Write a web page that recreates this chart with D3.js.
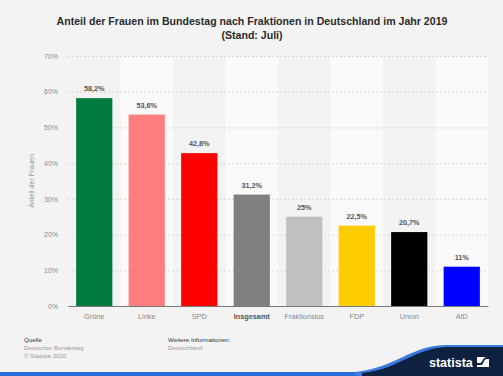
<!DOCTYPE html>
<html>
<head>
<meta charset="utf-8">
<script src="https://cdn.jsdelivr.net/npm/d3@7"></script>
<style>
  html, body { margin: 0; padding: 0; background: #f3f3f3; }
  svg { display: block; font-family: "Liberation Sans", Arial, sans-serif; }
</style>
</head>
<body>
<svg id="chart" width="503" height="376"></svg>
<script>
// Frauenanteil je Fraktion, Bundestag 2019
const categories = ["Grüne", "Linke", "SPD", "Insgesamt", "Fraktionslos", "FDP", "Union", "AfD"];
const values = [58.2, 53.6, 42.8, 31.2, 25, 22.5, 20.7, 11];
const barColors = ["#007a3d", "#ff7f7f", "#ff0000", "#808080", "#c0c0c0", "#ffcc00", "#000000", "#0000ff"];
const yTicks = [0, 10, 20, 30, 40, 50, 60, 70];
const valueLabels = ["58,2%", "53,6%", "42,8%", "31,2%", "25%", "22,5%", "20,7%", "11%"];

const svg = d3.select("#chart");
const W = 503, H = 376;
const m = { left: 68, right: 15, top: 56, bottom: 70 };
const x = d3.scaleBand().domain(categories).range([m.left, W - m.right]).paddingInner(0.31).paddingOuter(0.155);
const y = d3.scaleLinear().domain([0, 70]).range([H - m.bottom, m.top]);

svg.append("rect").attr("width", W).attr("height", H).attr("fill", "#f3f3f3");

// Title
svg.append("text").attr("x", 252).attr("y", 25).attr("text-anchor", "middle")
  .attr("font-size", 10.6).attr("font-weight", "bold").attr("fill", "#2b2b2b")
  .text("Anteil der Frauen im Bundestag nach Fraktionen in Deutschland im Jahr 2019");
svg.append("text").attr("x", 252).attr("y", 39).attr("text-anchor", "middle")
  .attr("font-size", 10.6).attr("font-weight", "bold").attr("fill", "#2b2b2b")
  .text("(Stand: Juli)");

// Alternating column bands
const step = x.step();
svg.append("g").selectAll("rect").data(categories).join("rect")
  .attr("x", d => x(d) - step * x.paddingInner() / 2)
  .attr("y", y(70))
  .attr("width", step)
  .attr("height", y(0) - y(70))
  .attr("fill", (d, i) => i % 2 ? "#fafafa" : "#f3f3f3");

// Gridlines + tick labels
const yAxis = d3.axisLeft(y).tickValues(yTicks).tickSize(-(W - m.right - m.left))
  .tickPadding(10).tickFormat(d => d + "%");
const gy = svg.append("g").attr("transform", `translate(${m.left},0)`).call(yAxis);
gy.select(".domain").remove();
gy.selectAll(".tick line").attr("stroke", "#cfcfcf").attr("stroke-dasharray", "2,2")
  .attr("stroke-width", 0.8)
  .filter(d => d === 0).remove();
gy.selectAll(".tick text").attr("font-size", 7).attr("fill", "#8a8a8a")
  .attr("font-family", "Liberation Sans, Arial, sans-serif");

// Y-axis title
svg.append("text").attr("transform", `translate(34,${(y(0) + y(70)) / 2}) rotate(-90)`)
  .attr("text-anchor", "middle").attr("font-size", 7).attr("fill", "#999")
  .text("Anteil der Frauen");

// Bars
svg.append("g").selectAll("rect").data(values).join("rect")
  .attr("x", (d, i) => x(categories[i]))
  .attr("y", d => y(d))
  .attr("width", x.bandwidth())
  .attr("height", d => y(0) - y(d))
  .attr("fill", (d, i) => barColors[i]);

// Value labels
svg.append("g").selectAll("text").data(values).join("text")
  .attr("x", (d, i) => x(categories[i]) + x.bandwidth() / 2)
  .attr("y", d => y(d) - 7)
  .attr("text-anchor", "middle").attr("font-size", 7.3).attr("font-weight", "bold")
  .attr("fill", "#555")
  .text((d, i) => valueLabels[i]);

// Baseline + category labels
const xAxis = d3.axisBottom(x).tickSize(0).tickPadding(8);
const gx = svg.append("g").attr("transform", `translate(0,${y(0)})`).call(xAxis);
gx.select(".domain").attr("stroke", "#777").attr("stroke-width", 1.2);
gx.selectAll(".tick text").attr("font-size", 7.3)
  .attr("font-family", "Liberation Sans, Arial, sans-serif")
  .attr("font-weight", d => d === "Insgesamt" ? "bold" : "normal")
  .attr("fill", d => d === "Insgesamt" ? "#555" : "#888");

// Footer
const foot = svg.append("g").attr("font-size", 6.2);
foot.append("text").attr("x", 24).attr("y", 342).attr("fill", "#333").text("Quelle");
foot.append("text").attr("x", 24).attr("y", 350).attr("fill", "#999").text("Deutscher Bundestag");
foot.append("text").attr("x", 24).attr("y", 358).attr("fill", "#999").text("© Statista 2020");
foot.append("text").attr("x", 168).attr("y", 342).attr("fill", "#333").text("Weitere Informationen:");
foot.append("text").attr("x", 168).attr("y", 350).attr("fill", "#999").text("Deutschland");

// Brand swoosh
svg.append("rect").attr("x", 0).attr("y", 372).attr("width", W).attr("height", 4).attr("fill", "#2a6fd6");
svg.append("path")
  .attr("d", "M355,372 C395,368 410,346 445,345 L503,345 L503,376 L355,376 Z")
  .attr("fill", "#3b7be0");
svg.append("path")
  .attr("d", "M362,373 C400,369 414,348 447,347 L503,347 L503,376 L362,376 Z")
  .attr("fill", "#0e2140");
svg.append("text").attr("x", 429).attr("y", 367).attr("font-size", 12.5).attr("font-weight", "bold")
  .attr("fill", "#fff").attr("font-family", "Liberation Sans, Arial, sans-serif")
  .text("statista");
const icon = svg.append("g").attr("transform", "translate(477,357)");
icon.append("rect").attr("width", 12).attr("height", 10).attr("fill", "#fff");
icon.append("path").attr("d", "M0,8 L4,8 C7,8 6,2 10,2 L12,2 L12,0 L10,0 C5,0 6,6 3,6 L0,6 Z").attr("fill", "#0e2140");
</script>
</body>
</html>
